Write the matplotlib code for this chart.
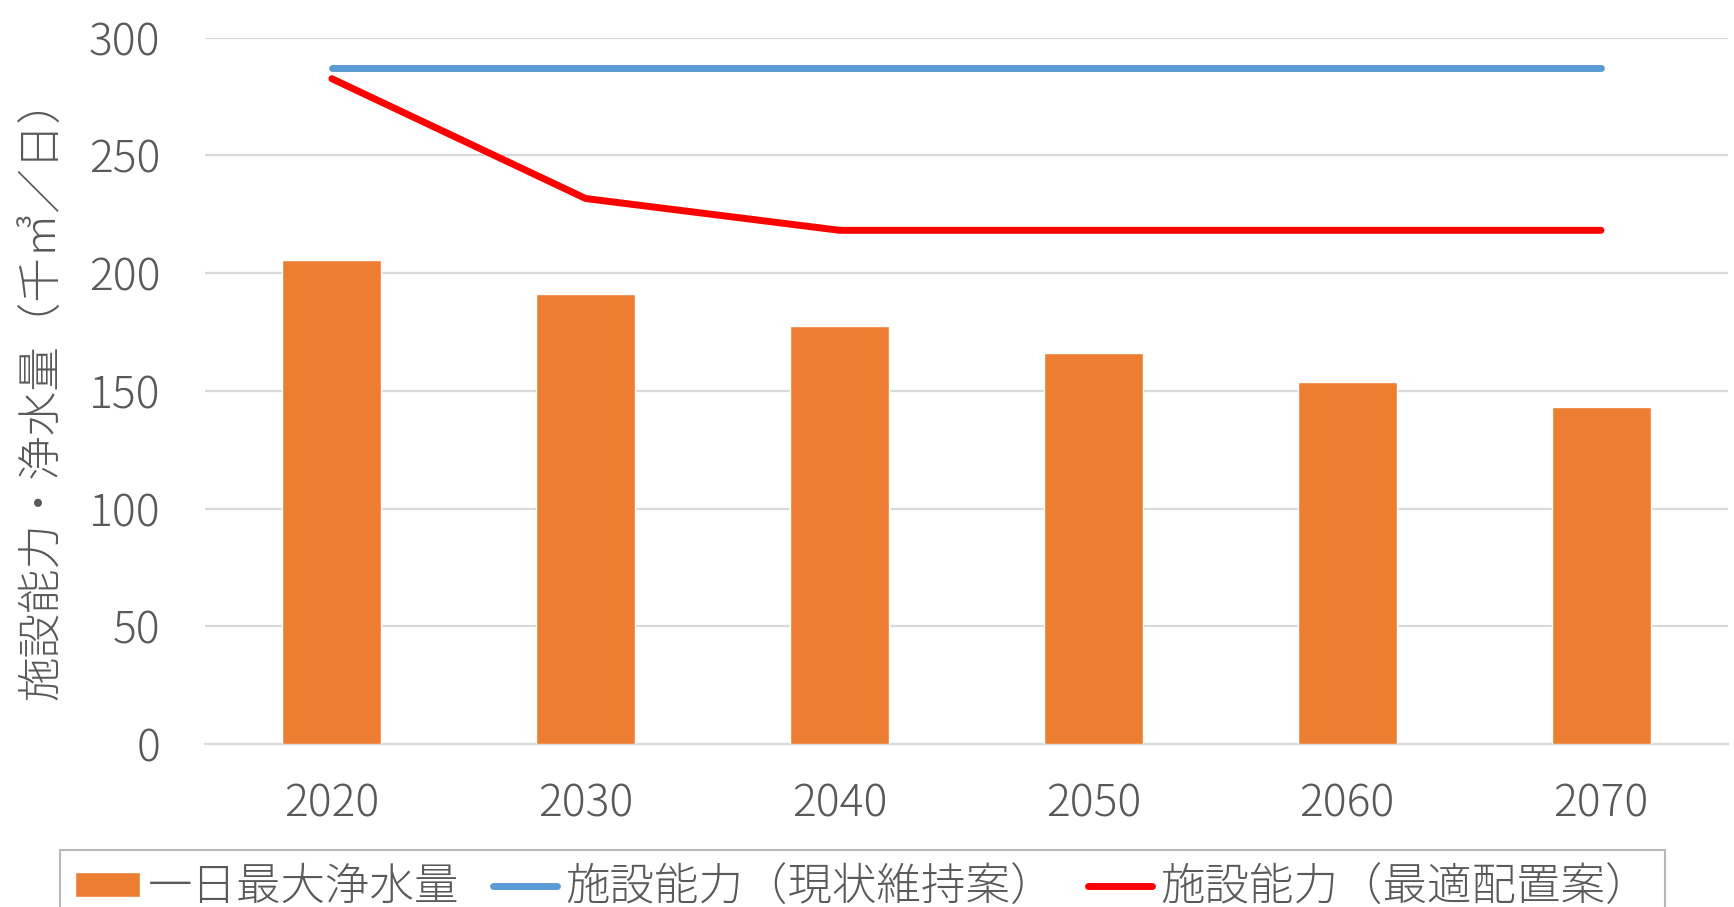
import matplotlib
matplotlib.use("Agg")
import matplotlib.pyplot as plt
import numpy as np

plt.rcParams['font.family'] = ['Noto Sans CJK JP', 'DejaVu Sans']

years = ['2020', '2030', '2040', '2050', '2060', '2070']
max_daily = [205.5, 191, 177.7, 166, 153.8, 143]          # 一日最大浄水量
cap_keep = [287, 287, 287, 287, 287, 287]                 # 施設能力（現状維持案）
cap_opt = [282.6, 231.7, 218.2, 218.2, 218.2, 218.2]      # 施設能力（最適配置案）

txt = '#595959'
fig = plt.figure(figsize=(17.34, 9.07), dpi=100)
ax = fig.add_axes([0.1182, 0.1797, 0.8783, 0.7787])

x = np.arange(len(years))
ax.bar(x, max_daily, width=0.39, color='#ED7D31', edgecolor='white', linewidth=1,
       label='一日最大浄水量', zorder=3)
ax.plot(x, cap_keep, color='#5B9BD5', lw=5, solid_capstyle='round',
        label='施設能力（現状維持案）', zorder=4)
ax.plot(x, cap_opt, color='#FF0000', lw=5, solid_capstyle='round',
        solid_joinstyle='round', label='施設能力（最適配置案）', zorder=4)

ax.set_xlim(-0.5, 5.5)
ax.set_ylim(0, 300)
ax.set_yticks(range(0, 301, 50))
ax.set_xticks(x)
ax.set_xticklabels(years)
ax.grid(axis='y', color='#d9d9d9', lw=1.6, zorder=0)
ax.set_axisbelow(True)
for s in ['top', 'right', 'left']:
    ax.spines[s].set_visible(False)
ax.spines['bottom'].set_color('#d9d9d9')
ax.spines['bottom'].set_linewidth(1.6)
ax.tick_params(axis='both', length=0, labelsize=32, labelcolor=txt)
ax.tick_params(axis='y', pad=32)
ax.tick_params(axis='x', pad=27)
for lab in ax.get_xticklabels() + ax.get_yticklabels():
    lab.set_fontweight('light')

fig.text(0.024, 0.572, '施設能力・浄水量（千㎥／日）', rotation=90, ha='center',
         va='center', fontsize=32, color=txt, fontweight='light')

h, l = ax.get_legend_handles_labels()
order = [2, 0, 1]
leg = fig.legend([h[i] for i in order], [l[i] for i in order],
                 loc='upper center', bbox_to_anchor=(0.4974, 0.0630), ncol=3,
                 prop={'size': 32, 'weight': 'light'}, frameon=True,
                 fancybox=False, edgecolor='#a6a6a6',
                 handlelength=1.45, handleheight=0.5, handletextpad=0.18,
                 columnspacing=0.75, borderpad=0.35, borderaxespad=0)
leg.get_frame().set_linewidth(1.5)
for t in leg.get_texts():
    t.set_color(txt)

fig.savefig('out.png', dpi=100)
